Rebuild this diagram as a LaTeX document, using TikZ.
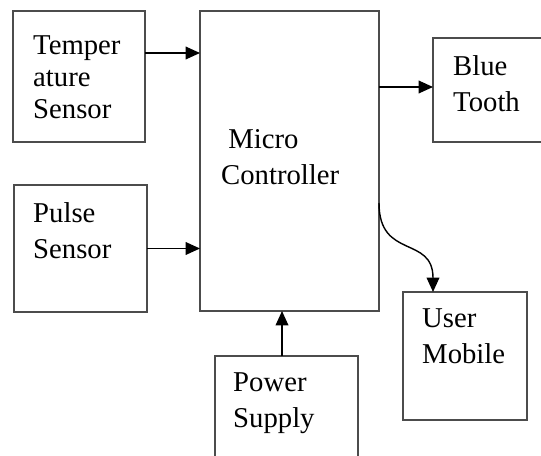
\documentclass[tikz,border=0pt]{standalone}
\usepackage{fontspec}
\setmainfont{Liberation Serif}
\usepackage{tikz}
\usetikzlibrary{arrows.meta, calc}
\newlength\px
\setlength\px{0.03cm}
\tikzset{
  bloque/.style={rectangle, draw=black!70, line width=1.1pt, inner sep=0pt, outer sep=0pt},
  rotulo/.style={anchor=north west, inner sep=0pt, align=left,
                 font=\fontsize{24.5pt}{#1}\selectfont},
  rotulo/.default={30.7pt},
  conector/.style={-{Triangle[length=4.3mm, width=3.8mm]}, line width=1.2pt, draw=black},
}
\begin{document}
\begin{tikzpicture}[x=0.03cm, y=-0.03cm]
  \useasboundingbox (0,0) rectangle (541,455);

  \node[bloque, minimum width=132\px, minimum height=131\px] (temp) at (79,76.5) {};
  \node[bloque, minimum width=133\px, minimum height=127\px] (pulse) at (80.5,248.5) {};
  \node[bloque, minimum width=179\px, minimum height=300\px] (mcu) at (289.5,161) {};
  \node[bloque, minimum width=112\px, minimum height=104\px] (bt) at (489,90) {};
  \node[bloque, minimum width=124\px, minimum height=128\px] (mob) at (465,356) {};
  \node[bloque, minimum width=143\px, minimum height=106\px] (pwr) at (286.5,409) {};

  \node[rotulo=27.3pt] (tempL) at (33,35.5) {Temper\\ature\\Sensor};
  \node[rotulo] (pulseL) at (33,202.5) {Pulse\\Sensor};
  \node[rotulo] (mcuL) at (221,129.5) {~Micro\\Controller};
  \node[rotulo] (btL) at (453,55.5) {Blue\\Tooth};
  \node[rotulo] (mobL) at (422,308.5) {User\\Mobile};
  \node[rotulo] (pwrL) at (233,372.5) {Power\\Supply};

  \draw[conector] ($(temp.east)+(0,-23.5)$) -- ($(temp.east -| mcu.west)+(0,-23.5)$);
  \draw[conector] (pulse.east) -- (pulse.east -| mcu.west);
  \draw[conector] ($(mcu.east |- bt.west)+(0,-3)$) -- ($(bt.west)+(0,-3)$);
  \draw[conector] ($(pwr.north)+(-4.5,0)$) -- ($(pwr.north |- mcu.south)+(-4.5,0)$);
  \draw[conector] ($(mcu.east)+(0,42)$) .. controls +(0,57) and +(0,-57) .. ($(mob.north)+(-32,0)$);
\end{tikzpicture}
\end{document}
